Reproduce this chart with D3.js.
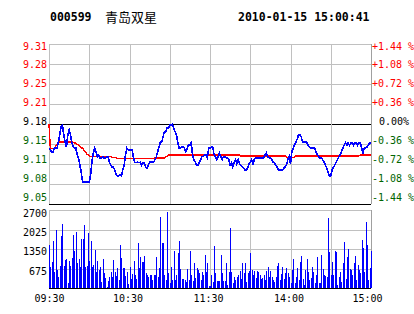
<!DOCTYPE html>
<html>
<head>
<meta charset="utf-8">
<script src="https://cdnjs.cloudflare.com/ajax/libs/d3/7.8.5/d3.min.js"></script>
<style>
  body { margin: 0; background: #ffffff; }
  svg { display: block; }
  text { font-family: "DejaVu Sans Mono", monospace; font-size: 10px; }
</style>
</head>
<body>
<svg id="chart" width="414" height="314"></svg>
<script>

// Header texts
var stockCode = "000599";
var stockName = "青岛双星";
var stampText = "2010-01-15 15:00:41";

// Previous close (0.00% line)
var preClose = 9.18;

// Price axis ticks (percent) and their labels
var pctTicks = [1.44, 1.08, 0.72, 0.36, 0, -0.36, -0.72, -1.08, -1.44];
var priceLabels = ["9.31", "9.28", "9.25", "9.21", "9.18", "9.15", "9.11", "9.08", "9.05"];
var pctLabels = ["+1.44 %", "+1.08 %", "+0.72 %", "+0.36 %", "0.00%", "-0.36 %", "-0.72 %", "-1.08 %", "-1.44 %"];

// Volume axis
var volMax = 2700;
var volTicks = [675, 1350, 2025, 2700];

// Time axis (minutes after 09:30, lunch break removed)
var timeTicks = [0, 60, 120, 180, 240];
var timeLabels = ["09:30", "10:30", "11:30", "14:00", "15:00"];
var gridMinutes = [30, 60, 90, 120, 150, 180, 210];

// Minute prices 09:30 .. 15:00
var prices = [
  9.14, 9.137, 9.134, 9.134, 9.14, 9.14, 9.14, 9.15, 9.162, 9.176,
  9.178, 9.162, 9.15, 9.142, 9.162, 9.17, 9.162, 9.15, 9.142, 9.14,
  9.14, 9.129, 9.124, 9.112, 9.101, 9.084, 9.084, 9.084, 9.084, 9.084,
  9.084, 9.096, 9.117, 9.132, 9.14, 9.134, 9.126, 9.129, 9.124, 9.124,
  9.126, 9.124, 9.124, 9.126, 9.126, 9.117, 9.112, 9.109, 9.109, 9.104,
  9.096, 9.094, 9.094, 9.096, 9.094, 9.104, 9.112, 9.129, 9.14, 9.137,
  9.137, 9.137, 9.137, 9.124, 9.117, 9.116, 9.117, 9.116, 9.117, 9.112,
  9.116, 9.116, 9.109, 9.107, 9.112, 9.117, 9.117, 9.117, 9.117, 9.121,
  9.126, 9.134, 9.142, 9.15, 9.15, 9.159, 9.167, 9.167, 9.173, 9.173,
  9.178, 9.178, 9.18, 9.173, 9.167, 9.162, 9.15, 9.14, 9.14, 9.142,
  9.142, 9.14, 9.134, 9.14, 9.145, 9.145, 9.149, 9.129, 9.121, 9.117,
  9.112, 9.112, 9.117, 9.121, 9.126, 9.126, 9.129, 9.129, 9.124, 9.14,
  9.14, 9.142, 9.142, 9.13, 9.126, 9.121, 9.126, 9.132, 9.126, 9.121,
  9.126, 9.126, 9.124, 9.124, 9.121, 9.112, 9.116, 9.109, 9.116, 9.121,
  9.114, 9.121, 9.114, 9.112, 9.109, 9.107, 9.104, 9.104, 9.107, 9.114,
  9.117, 9.121, 9.114, 9.121, 9.124, 9.124, 9.124, 9.124, 9.124, 9.124,
  9.124, 9.129, 9.132, 9.126, 9.124, 9.124, 9.121, 9.117, 9.116, 9.112,
  9.109, 9.104, 9.104, 9.104, 9.104, 9.107, 9.109, 9.112, 9.121, 9.126,
  9.114, 9.134, 9.14, 9.145, 9.15, 9.155, 9.162, 9.162, 9.159, 9.15,
  9.15, 9.15, 9.15, 9.145, 9.142, 9.14, 9.14, 9.14, 9.14, 9.134,
  9.129, 9.126, 9.124, 9.124, 9.121, 9.117, 9.112, 9.107, 9.101, 9.094,
  9.094, 9.104, 9.109, 9.112, 9.117, 9.121, 9.126, 9.129, 9.134, 9.14,
  9.145, 9.149, 9.145, 9.149, 9.145, 9.149, 9.149, 9.145, 9.149, 9.149,
  9.145, 9.149, 9.149, 9.14, 9.132, 9.14, 9.14, 9.142, 9.145, 9.149, 9.149
];

// Average price line
var avgPrices = [
  9.18, 9.14, 9.14, 9.14, 9.14, 9.143, 9.146, 9.149, 9.15, 9.15,
  9.15, 9.15, 9.15, 9.15, 9.15, 9.15, 9.15, 9.15, 9.15, 9.149,
  9.148, 9.146, 9.145, 9.143, 9.141, 9.14, 9.137, 9.134, 9.131, 9.129,
  9.127, 9.126, 9.126, 9.126, 9.126, 9.126, 9.126, 9.126, 9.126, 9.126,
  9.126, 9.126, 9.126, 9.126, 9.126, 9.126, 9.126, 9.125, 9.125, 9.125,
  9.125, 9.123, 9.123, 9.123, 9.123, 9.123, 9.123, 9.123, 9.123, 9.123,
  9.123, 9.123, 9.123, 9.123, 9.123, 9.123, 9.123, 9.123, 9.123, 9.123,
  9.123, 9.123, 9.123, 9.123, 9.123, 9.123, 9.123, 9.123, 9.123, 9.124,
  9.124, 9.124, 9.124, 9.124, 9.124, 9.124, 9.124, 9.126, 9.126, 9.129,
  9.129, 9.129, 9.129, 9.129, 9.129, 9.129, 9.129, 9.129, 9.129, 9.129,
  9.129, 9.129, 9.129, 9.129, 9.129, 9.129, 9.129, 9.129, 9.129, 9.129,
  9.129, 9.129, 9.129, 9.129, 9.129, 9.129, 9.129, 9.129, 9.129, 9.129,
  9.129, 9.129, 9.129, 9.129, 9.129, 9.129, 9.129, 9.129, 9.129, 9.129,
  9.129, 9.129, 9.129, 9.129, 9.129, 9.129, 9.129, 9.129, 9.129, 9.129,
  9.129, 9.129, 9.129, 9.127, 9.127, 9.127, 9.127, 9.127, 9.127, 9.127,
  9.127, 9.127, 9.127, 9.127, 9.127, 9.127, 9.127, 9.127, 9.127, 9.127,
  9.127, 9.127, 9.127, 9.127, 9.127, 9.127, 9.127, 9.127, 9.127, 9.127,
  9.127, 9.127, 9.127, 9.127, 9.127, 9.127, 9.127, 9.125, 9.125, 9.125,
  9.125, 9.125, 9.125, 9.125, 9.127, 9.127, 9.127, 9.127, 9.127, 9.127,
  9.127, 9.127, 9.127, 9.127, 9.127, 9.127, 9.127, 9.127, 9.127, 9.127,
  9.127, 9.127, 9.127, 9.127, 9.127, 9.127, 9.127, 9.127, 9.127, 9.127,
  9.127, 9.127, 9.127, 9.127, 9.127, 9.127, 9.127, 9.127, 9.127, 9.127,
  9.127, 9.127, 9.127, 9.127, 9.127, 9.127, 9.127, 9.127, 9.127, 9.127,
  9.127, 9.127, 9.129, 9.129, 9.129, 9.129, 9.129, 9.129, 9.129, 9.129, 9.129
];

// Minute volumes
var volumes = [
  1490, 740, 910, 1630, 570, 2010, 620, 390, 770, 1810,
  2220, 770, 970, 990, 190, 940, 770, 1030, 1840, 1280,
  1950, 880, 990, 740, 1700, 1700, 2180, 740, 770, 1890,
  940, 1630, 740, 800, 1320, 560, 940, 620, 740, 200,
  990, 530, 340, 50, 250, 370, 560, 370, 970, 560,
  400, 680, 290, 1490, 1030, 700, 680, 400, 560, 150,
  740, 320, 500, 920, 440, 320, 1570,
  681, 1085, 900, 911, 1108, 531, 450, 392, 450, 450,
  277, 450, 450, 1062, 369, 681, 2469, 1569, 1546, 450,
  277, 2642, 508, 185, 738, 277, 1281, 277, 450, 1223,
  1627, 658, 323, 323, 277, 196, 646, 277, 1281, 450,
  242, 877, 358, 681, 623, 508, 277, 565, 438, 1142,
  542, 854, 69, 69, 450, 219, 1454, 508, 231, 254,
  231, 1142, 508, 231, 242, 854, 104, 565, 2065, 565,
  162, 392, 277, 392, 450, 588, 312, 854, 531, 854,
  219, 508, 600, 1200, 623, 450, 600, 335, 600, 565,
  450, 312, 335, 450, 277, 600,
  738, 369, 600, 392, 277, 219, 369, 762, 877, 277,
  485, 738, 300, 531, 681, 531, 392, 162, 623, 1016,
  162, 392, 681, 277, 911, 1108, 300, 104, 623, 1004,
  565, 277, 335, 738, 565, 162, 450, 1085, 162, 185,
  1142, 658, 450, 415, 369, 2411, 1258, 450, 911, 450,
  1281, 1258, 104, 369, 565, 219, 877, 1604, 300, 1085,
  1339, 646, 623, 450, 854, 1108, 277, 796, 623, 508,
  1662, 1396, 565, 2296, 1489, 277, 681, 1293
];


var svg = d3.select('#chart');

// Plot boxes
var margin = {left: 49, right: 371, priceTop: 44, priceBottom: 204, volTop: 210, volBottom: 288};

var gridColor = '#c0c0c0';
var upColor = '#ff0000';
var downColor = '#006400';

// Scales
var x = d3.scaleLinear().domain([0, 240]).range([margin.left, margin.right]);
var yPct = d3.scaleLinear().domain([-1.44, 1.44]).range([margin.priceBottom, margin.priceTop]);
var yVol = d3.scaleLinear().domain([0, volMax]).range([margin.volBottom, margin.volTop]);

// Label baselines are spread a bit tighter than the grid lines
var pctLabelY = d3.scaleLinear().domain([1.44, -1.44]).range([49, 200.7]);
var volLabelY = d3.scaleLinear().domain([2700, 675]).range([216.7, 274]);

var pct = function(p) { return (p / preClose - 1) * 100; };
var px = function(v) { return Math.round(v) + 0.5; };

var colorFor = function(t) {
    if (t > 0) return upColor;
    if (t < 0) return downColor;
    return '#000000';
};


/*****************************/
// Header
/*****************************/

svg.append('text')
    .attr('x', 50).attr('y', 21)
    .style('font-size', '11.5px').style('font-weight', 'bold')
    .text(stockCode);

svg.append('text')
    .attr('x', 105).attr('y', 22)
    .style('font-family', '"Noto Sans CJK SC", sans-serif')
    .style('font-size', '13px')
    .text(stockName);

svg.append('text')
    .attr('x', 238).attr('y', 21)
    .style('font-size', '11.5px').style('font-weight', 'bold')
    .text(stampText);


/*****************************/
// Grid
/*****************************/

var grid = svg.append('g').attr('shape-rendering', 'crispEdges');

// Price area horizontal lines
grid.selectAll('.hp')
    .data(pctTicks)
    .enter().append('line')
    .attr('x1', margin.left).attr('x2', margin.right)
    .attr('y1', function(d) { return px(yPct(d)); })
    .attr('y2', function(d) { return px(yPct(d)); })
    .attr('stroke', function(d) { return (d === 0 || d === -1.44) ? '#000000' : gridColor; });

// Volume area horizontal lines
grid.selectAll('.hv')
    .data([0].concat(volTicks))
    .enter().append('line')
    .attr('x1', margin.left).attr('x2', margin.right)
    .attr('y1', function(d) { return px(yVol(d)); })
    .attr('y2', function(d) { return px(yVol(d)); })
    .attr('stroke', function(d) { return d === 0 ? '#000000' : gridColor; });

// Vertical lines in both areas
[[margin.priceTop, margin.priceBottom], [margin.volTop, margin.volBottom]].forEach(function(r) {
    grid.selectAll(null)
        .data(gridMinutes)
        .enter().append('line')
        .attr('x1', function(d) { return px(x(d)); })
        .attr('x2', function(d) { return px(x(d)); })
        .attr('y1', r[0]).attr('y2', r[1])
        .attr('stroke', gridColor);

    grid.append('line')
        .attr('x1', px(margin.left)).attr('x2', px(margin.left))
        .attr('y1', r[0]).attr('y2', r[1])
        .attr('stroke', gridColor);

    grid.append('line')
        .attr('x1', px(margin.right)).attr('x2', px(margin.right))
        .attr('y1', r[0]).attr('y2', r[1])
        .attr('stroke', '#a0a0a0');
});


/*****************************/
// Axes
/*****************************/

var priceAxis = svg.append('g')
    .attr('transform', 'translate(' + (margin.left - 1) + ',0)')
    .call(d3.axisLeft(yPct).tickValues(pctTicks).tickSize(0).tickPadding(1)
        .tickFormat(function(d, i) { return priceLabels[i]; }));

var pctAxis = svg.append('g')
    .attr('transform', 'translate(' + margin.right + ',0)')
    .call(d3.axisRight(yPct).tickValues(pctTicks).tickSize(0).tickPadding(1)
        .tickFormat(function(d, i) { return pctLabels[i]; }));

var volAxis = svg.append('g')
    .attr('transform', 'translate(' + (margin.left - 1) + ',0)')
    .call(d3.axisLeft(yVol).tickValues(volTicks).tickSize(0).tickPadding(1)
        .tickFormat(d3.format('d')));

var timeAxis = svg.append('g')
    .attr('transform', 'translate(0,' + margin.volBottom + ')')
    .call(d3.axisBottom(x).tickValues(timeTicks).tickSize(0).tickPadding(7)
        .tickFormat(function(d, i) { return timeLabels[i]; }));

[priceAxis, pctAxis, volAxis, timeAxis].forEach(function(a) {
    a.attr('font-family', null).attr('font-size', null);
    a.select('.domain').remove();
    a.selectAll('text').attr('fill', '#000000');
});

priceAxis.selectAll('text')
    .attr('dy', function(d) { return pctLabelY(d) - yPct(d); })
    .attr('fill', function(d) { return colorFor(d); });

pctAxis.selectAll('text')
    .attr('dy', function(d) { return pctLabelY(d) - yPct(d); })
    .attr('dx', function(d) { return d === 0 ? 7 : 0; })
    .attr('fill', function(d) { return colorFor(d); });

volAxis.selectAll('text')
    .attr('dy', function(d) { return volLabelY(d) - yVol(d); });

timeAxis.selectAll('text')
    .attr('dx', function(d) { return d === 240 ? -4 : (d > 0 ? -2 : 0); });


/*****************************/
// Price and average lines
/*****************************/

var line = d3.line()
    .x(function(d, i) { return x(i); })
    .y(function(d) { return yPct(pct(d)); });

svg.append('path')
    .datum(avgPrices)
    .attr('d', line)
    .attr('fill', 'none')
    .attr('stroke', '#ff0000')
    .attr('stroke-width', 1.4)
    .attr('shape-rendering', 'crispEdges');

svg.append('path')
    .datum(prices)
    .attr('d', line)
    .attr('fill', 'none')
    .attr('stroke', '#0000ff')
    .attr('stroke-width', 1.6)
    .attr('shape-rendering', 'crispEdges');


/*****************************/
// Volume bars
/*****************************/

svg.append('g')
    .attr('shape-rendering', 'crispEdges')
    .selectAll('rect')
    .data(volumes)
    .enter().append('rect')
    .attr('x', function(d, i) { return Math.round(x(i)); })
    .attr('width', 1)
    .attr('y', function(d) { return yVol(d); })
    .attr('height', function(d) { return margin.volBottom - yVol(d); })
    .attr('fill', '#0000ff');

</script>
</body>
</html>
